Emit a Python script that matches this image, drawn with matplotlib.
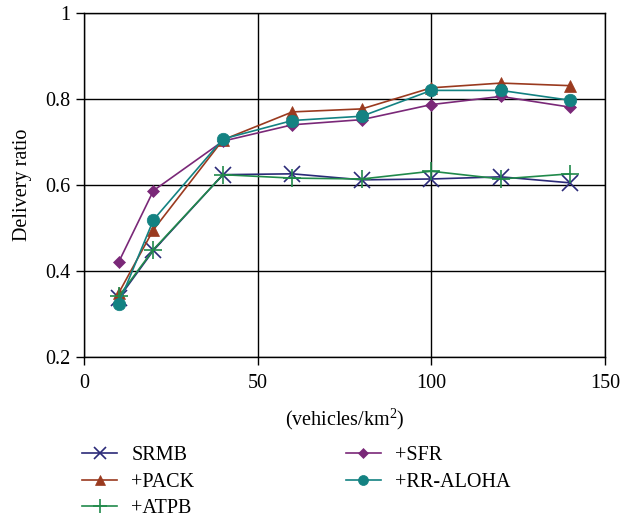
import matplotlib
matplotlib.use("Agg")
import matplotlib.pyplot as plt

density = [10, 20, 40, 60, 80, 100, 120, 140]
srmb = [0.337, 0.448, 0.624, 0.626, 0.612, 0.614, 0.619, 0.605]
pack = [0.349, 0.496, 0.705, 0.770, 0.777, 0.826, 0.837, 0.831]
atpb = [0.341, 0.450, 0.624, 0.616, 0.614, 0.632, 0.614, 0.626]
sfr = [0.421, 0.587, 0.702, 0.740, 0.752, 0.787, 0.806, 0.781]
rraloha = [0.324, 0.519, 0.707, 0.750, 0.760, 0.820, 0.820, 0.797]

x_ticks = [0, 50, 100, 150]
y_ticks = [0.2, 0.4, 0.6, 0.8, 1.0]
y_ticklabels = ["0.2", "0.4", "0.6", "0.8", "1"]

plt.rcParams['font.family'] = ['Liberation Serif', 'DejaVu Serif']
plt.rcParams['mathtext.fontset'] = 'custom'
plt.rcParams['mathtext.rm'] = 'Liberation Serif'
fs = 14.5

fig = plt.figure(figsize=(6.33, 5.18), dpi=100)
ax = fig.add_axes([84/633, 1 - 357/518, (605-84)/633, (357-13)/518])

series = [
    ("SRMB", srmb, "#2b2a78", "x", 11, 1.2),
    ("+PACK", pack, "#9a3a1f", "^", 9, 1.2),
    ("+ATPB", atpb, "#218a4b", "+", 13, 1.2),
    ("+SFR", sfr, "#7a2878", "D", 6.5, 1.2),
    ("+RR-ALOHA", rraloha, "#138282", "o", 9, 1.2),
]
for label, ys, c, m, ms, lw in series:
    ax.plot(density, ys, color=c, marker=m, markersize=ms, linewidth=lw,
            markeredgewidth=1.2 if m in ("x", "+") else 0.5, label=label)

ax.set_xlim(0, 150)
ax.set_ylim(0.2, 1.0)
ax.set_xticks(x_ticks)
ax.set_yticks(y_ticks)
ax.set_yticklabels(y_ticklabels)
ax.grid(True, color="black", linewidth=1.0)
ax.set_axisbelow(True)
for s in ax.spines.values():
    s.set_linewidth(1.0)
ax.tick_params(axis="both", direction="out", length=6, width=1.0, labelsize=fs)
ax.tick_params(axis="x", pad=6)
ax.set_xlabel("(vehicles/km$^\\mathregular{2}$)", fontsize=fs, labelpad=10)
ax.set_ylabel("Delivery ratio", fontsize=fs, labelpad=10)

leg = fig.legend(loc="upper left", bbox_to_anchor=(74/633, 1 - 438/518), ncol=2,
                 frameon=False, fontsize=fs, handlelength=1.75, handletextpad=0.7,
                 columnspacing=7.5, labelspacing=0.37, borderaxespad=0,
                 markerscale=0.8)

fig.savefig("out.png", dpi=100)
